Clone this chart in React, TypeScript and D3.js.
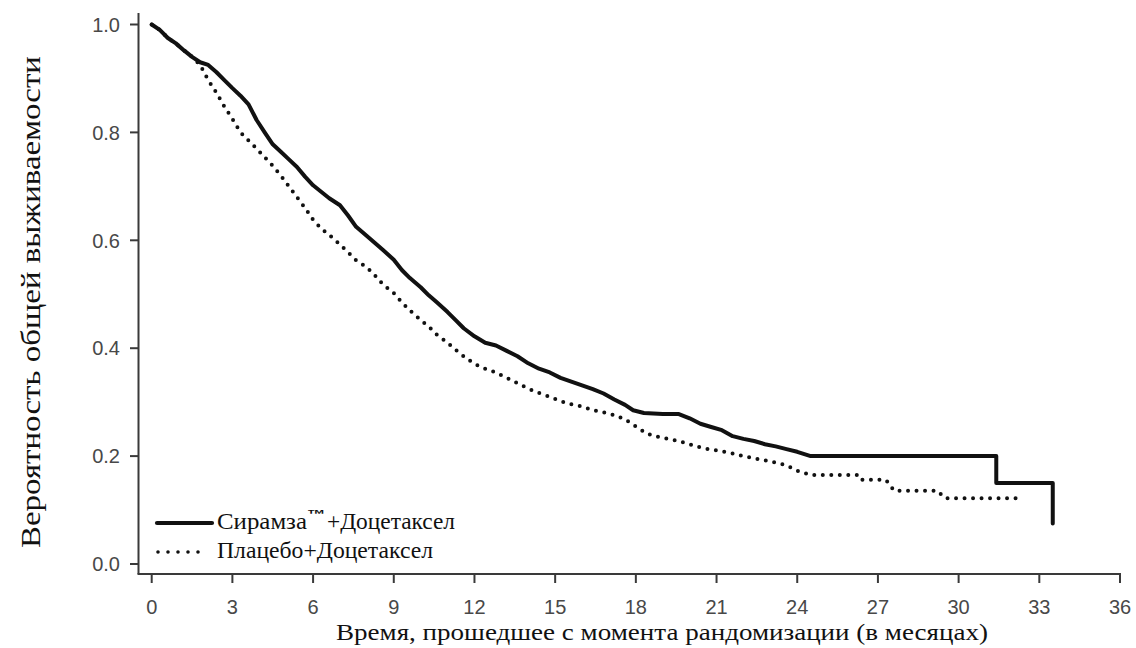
import React from "react";
import * as d3 from "d3";

const ramTimes = [0, 0.3, 0.6, 0.9, 1.2, 1.5, 1.8, 2.1, 2.4, 2.7, 3.0, 3.3, 3.6, 3.9, 4.2, 4.5, 4.8, 5.1, 5.4, 5.7, 6.0, 6.3, 6.6, 7.0, 7.3, 7.6, 8.0, 8.3, 8.6, 9.0, 9.3, 9.6, 10.0, 10.3, 10.6, 11.0, 11.3, 11.6, 12.0, 12.4, 12.8, 13.2, 13.6, 14.0, 14.4, 14.8, 15.2, 15.6, 16.0, 16.4, 16.8, 17.2, 17.6, 17.9, 18.3, 19.0, 19.6, 20.0, 20.4, 20.8, 21.2, 21.6, 22.0, 22.4, 22.8, 23.2, 23.6, 24.0, 24.5, 31.4, 33.5];
const ramSurv = [1.0, 0.99, 0.975, 0.965, 0.952, 0.94, 0.93, 0.925, 0.912, 0.897, 0.882, 0.868, 0.852, 0.823, 0.8, 0.778, 0.764, 0.75, 0.736, 0.718, 0.702, 0.69, 0.678, 0.665, 0.646, 0.625, 0.608, 0.595, 0.582, 0.564, 0.545, 0.53, 0.513, 0.498, 0.485, 0.467, 0.452, 0.437, 0.422, 0.41, 0.405, 0.395, 0.385, 0.372, 0.362, 0.355, 0.345, 0.338, 0.331, 0.324, 0.316, 0.305, 0.295, 0.285, 0.28, 0.278, 0.278, 0.27, 0.26, 0.254, 0.248, 0.237, 0.232, 0.228, 0.222, 0.218, 0.213, 0.208, 0.2, 0.15, 0.075];

const plaTimes = [0, 0.3, 0.6, 0.9, 1.2, 1.5, 1.8, 2.1, 2.4, 2.7, 3.0, 3.3, 3.6, 3.9, 4.2, 4.5, 4.8, 5.1, 5.4, 5.7, 6.0, 6.3, 6.6, 7.0, 7.3, 7.6, 8.0, 8.3, 8.6, 9.0, 9.3, 9.6, 10.0, 10.3, 10.6, 11.0, 11.3, 11.6, 12.0, 12.4, 12.8, 13.2, 13.6, 14.0, 14.4, 14.8, 15.2, 15.6, 16.0, 16.4, 16.8, 17.2, 17.6, 18.0, 18.4, 18.8, 19.2, 19.6, 20.0, 20.4, 20.8, 21.2, 21.6, 22.0, 22.4, 22.8, 23.2, 23.6, 24.0, 24.5, 26.3, 26.4, 27.3, 27.6, 29.2, 29.5, 32.3];
const plaSurv = [1.0, 0.99, 0.975, 0.965, 0.952, 0.94, 0.925, 0.897, 0.874, 0.848, 0.825, 0.8, 0.785, 0.77, 0.754, 0.738, 0.72, 0.7, 0.68, 0.66, 0.638, 0.622, 0.61, 0.592, 0.578, 0.563, 0.55, 0.535, 0.518, 0.502, 0.485, 0.47, 0.452, 0.44, 0.425, 0.41, 0.397, 0.385, 0.371, 0.362, 0.355, 0.345, 0.335, 0.325, 0.317, 0.31, 0.302, 0.296, 0.292, 0.285, 0.281, 0.276, 0.268, 0.255, 0.242, 0.236, 0.232, 0.228, 0.222, 0.216, 0.212, 0.209, 0.205, 0.2, 0.196, 0.192, 0.188, 0.183, 0.173, 0.165, 0.165, 0.156, 0.156, 0.136, 0.136, 0.122, 0.122];

// index where the dense (many small events) part ends; later points are clear steps
const ramDenseEnd = 68;

const xTicks = [0, 3, 6, 9, 12, 15, 18, 21, 24, 27, 30, 33, 36];
const yTicks = [0, 0.2, 0.4, 0.6, 0.8, 1.0];

const yTitle = "Вероятность общей выживаемости";
const xTitle = "Время, прошедшее с момента рандомизации (в месяцах)";
const legendRam = ["Сирамза", "™", "+Доцетаксел"];
const legendPla = "Плацебо+Доцетаксел";

export default function App() {
  const W = 1136, H = 648;
  const x = d3.scaleLinear().domain([0, 36]).range([151.7, 1120]);
  const y = d3.scaleLinear().domain([0, 1]).range([564, 24.5]);
  const linear = d3
    .line<[number, number]>()
    .x((d) => x(d[0]))
    .y((d) => y(d[1]));
  const step = d3
    .line<[number, number]>()
    .x((d) => x(d[0]))
    .y((d) => y(d[1]))
    .curve(d3.curveStepAfter);
  const ram = ramTimes.map((t, i) => [t, ramSurv[i]] as [number, number]);
  const pla = plaTimes.map((t, i) => [t, plaSurv[i]] as [number, number]);
  const ramPath = (linear(ram.slice(0, ramDenseEnd + 1)) || "") + (step(ram.slice(ramDenseEnd)) || "").replace(/^M[^L]*/, "");
  const plaPath = linear(pla) || "";
  const axisColor = "#3a3a3a";
  const tickFont = "'Liberation Sans', Arial, sans-serif";
  const serif = "'Liberation Serif', 'Times New Roman', serif";
  const axisY = 574;
  const axisX = 138.5;

  return (
    <svg width={W} height={H} style={{ position: "absolute", left: 0, top: 0, background: "#fff" }}>
      <rect x={0} y={0} width={W} height={H} fill="#fff" />
      <line x1={axisX} y1={13} x2={axisX} y2={axisY} stroke={axisColor} strokeWidth={2} />
      <line x1={axisX - 1} y1={axisY} x2={x(36) + 1} y2={axisY} stroke={axisColor} strokeWidth={2} />
      {yTicks.map((v) => (
        <g key={"y" + v}>
          <line x1={130} x2={axisX} y1={y(v)} y2={y(v)} stroke={axisColor} strokeWidth={2} />
          <text x={120} y={y(v)} dy="0.36em" textAnchor="end" fontFamily={tickFont} fontSize={20} fill="#484848">
            {v.toFixed(1)}
          </text>
        </g>
      ))}
      {xTicks.map((v) => (
        <g key={"x" + v}>
          <line x1={x(v)} x2={x(v)} y1={axisY} y2={583} stroke={axisColor} strokeWidth={2} />
          <text x={x(v)} y={607} dy="0.36em" textAnchor="middle" fontFamily={tickFont} fontSize={20} fill="#484848">
            {v}
          </text>
        </g>
      ))}
      <text
        transform={`translate(31, 302) rotate(-90)`}
        textAnchor="middle"
        dy="0.35em"
        fontFamily={serif}
        fontSize={27}
        fill="#111"
        textLength={492}
        lengthAdjust="spacingAndGlyphs"
      >
        {yTitle}
      </text>
      <text
        x={662}
        y={632}
        dy="0.35em"
        textAnchor="middle"
        fontFamily={serif}
        fontSize={24}
        fill="#111"
        textLength={652}
        lengthAdjust="spacingAndGlyphs"
      >
        {xTitle}
      </text>
      <path d={plaPath} fill="none" stroke="#111" strokeWidth={4} strokeLinecap="round" strokeDasharray="0 8.5" />
      <path d={ramPath} fill="none" stroke="#111" strokeWidth={4} strokeLinejoin="round" strokeLinecap="round" />
      <line x1={157} x2={212} y1={523} y2={523} stroke="#111" strokeWidth={4.2} strokeLinecap="round" />
      <line x1={158} x2={208} y1={552} y2={552} stroke="#111" strokeWidth={3.6} strokeLinecap="round" strokeDasharray="0 10" />
      <text x={217} y={529} fontFamily={serif} fontSize={23} fill="#111" textLength={90} lengthAdjust="spacingAndGlyphs">
        {legendRam[0]}
      </text>
      <text x={307} y={518} fontFamily={tickFont} fontSize={12} fontWeight="bold" fill="#111" textLength={19} lengthAdjust="spacingAndGlyphs">
        {legendRam[1]}
      </text>
      <text x={327} y={529} fontFamily={serif} fontSize={23} fill="#111" textLength={128} lengthAdjust="spacingAndGlyphs">
        {legendRam[2]}
      </text>
      <text x={217} y={558} fontFamily={serif} fontSize={23} fill="#111" textLength={216} lengthAdjust="spacingAndGlyphs">
        {legendPla}
      </text>
    </svg>
  );
}
